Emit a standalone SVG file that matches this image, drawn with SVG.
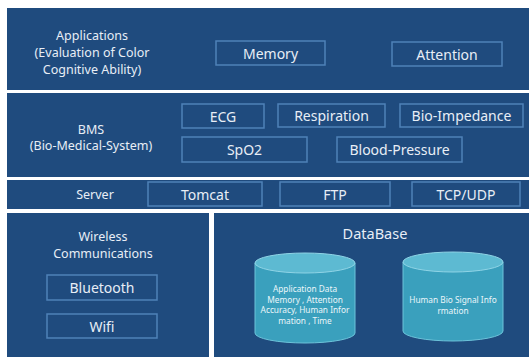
<svg xmlns="http://www.w3.org/2000/svg" width="531" height="357" viewBox="0 0 531 357">
<style>
.panel{fill:#1f4b7e}
.box{fill:#1f4b7e;stroke:#4f82b8;stroke-width:1.5}
.t{font-family:"Noto Sans","Open Sans",sans-serif;fill:#e8eef6;text-anchor:middle;dominant-baseline:central}
.lbl{font-size:12.5px}
.bx{font-size:14px}
.cyl{fill:#3aa0bd;stroke:#6cc3da;stroke-width:1}
.cyltop{fill:#5dbad2;stroke:#8fd4e6;stroke-width:1}
.ct{font-family:"Noto Sans","Open Sans",sans-serif;fill:#eaf6fa;text-anchor:middle;font-size:8.3px;dominant-baseline:central}
</style>
<rect width="531" height="357" fill="#ffffff"/>
<g id="applications">
<rect class="panel" x="7" y="8" width="522" height="82"/>
<text class="t lbl" x="92" y="35">Applications</text>
<text class="t lbl" x="92" y="52">(Evaluation of Color</text>
<text class="t lbl" x="92" y="69">Cognitive Ability)</text>
</g>
<g id="memory"><rect class="box" x="216" y="41" width="109" height="24"/><text class="t bx" x="270.5" y="53">Memory</text></g>
<g id="attention"><rect class="box" x="392" y="42" width="110" height="24"/><text class="t bx" x="447" y="54">Attention</text></g>
<g id="bms">
<rect class="panel" x="7" y="93" width="522" height="84"/>
<text class="t lbl" x="91" y="129">BMS</text>
<text class="t lbl" x="91" y="145">(Bio-Medical-System)</text>
</g>
<g id="ecg"><rect class="box" x="182" y="104" width="82" height="24"/><text class="t bx" x="223" y="116">ECG</text></g>
<g id="respiration"><rect class="box" x="278" y="104" width="107" height="23"/><text class="t bx" x="331.5" y="115.5">Respiration</text></g>
<g id="bio-impedance"><rect class="box" x="400" y="104" width="123" height="23"/><text class="t bx" x="461.5" y="115.5">Bio-Impedance</text></g>
<g id="spo2"><rect class="box" x="182" y="137" width="125" height="25"/><text class="t bx" x="244.5" y="149.5">SpO2</text></g>
<g id="blood-pressure"><rect class="box" x="337" y="137" width="125" height="25"/><text class="t bx" x="399.5" y="149.5">Blood-Pressure</text></g>
<g id="server">
<rect class="panel" x="7" y="180" width="522" height="29"/>
<text class="t lbl" x="95" y="194">Server</text>
</g>
<g id="tomcat"><rect class="box" x="148" y="182" width="114" height="24"/><text class="t bx" x="205" y="194">Tomcat</text></g>
<g id="ftp"><rect class="box" x="280" y="182" width="110" height="24"/><text class="t bx" x="335" y="194">FTP</text></g>
<g id="tcpudp"><rect class="box" x="412" y="182" width="108" height="24"/><text class="t bx" x="466" y="194">TCP/UDP</text></g>
<g id="wireless">
<rect class="panel" x="7" y="213" width="202" height="144"/>
<text class="t lbl" x="103" y="236">Wireless</text>
<text class="t lbl" x="103" y="253">Communications</text>
</g>
<g id="bluetooth"><rect class="box" x="47" y="275" width="110" height="25"/><text class="t bx" x="102" y="287.5">Bluetooth</text></g>
<g id="wifi"><rect class="box" x="47" y="314" width="110" height="24"/><text class="t bx" x="102" y="326">Wifi</text></g>
<g id="database">
<rect class="panel" x="214" y="213" width="315" height="144"/>
<text class="t" style="font-size:14.5px" x="375" y="233">DataBase</text>
</g>
<g id="app-data">
<path class="cyl" d="M255 263 V333 A50 10 0 0 0 355 333 V263 Z"/>
<ellipse class="cyltop" cx="305" cy="263" rx="50" ry="10"/>
<text class="ct" x="305" y="288">Application Data</text>
<text class="ct" x="305" y="299">Memory , Attention</text>
<text class="ct" x="305" y="309.5">Accuracy, Human Infor</text>
<text class="ct" x="305" y="320">mation , Time</text>
</g>
<g id="bio-signal">
<path class="cyl" d="M403 262 V331 A50 10 0 0 0 503 331 V262 Z"/>
<ellipse class="cyltop" cx="453" cy="262" rx="50" ry="10"/>
<text class="ct" x="453" y="299">Human Bio Signal Info</text>
<text class="ct" x="453" y="310">rmation</text>
</g>
<g id="connectors"></g>
</svg>
